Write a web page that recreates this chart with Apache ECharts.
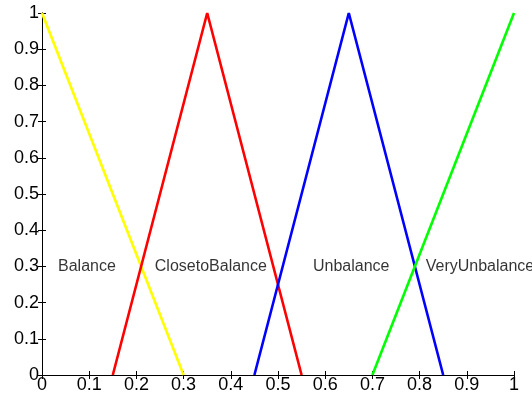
<!DOCTYPE html>
<html>
<head>
<meta charset="utf-8">
<script src="https://cdn.jsdelivr.net/npm/echarts@6/dist/echarts.min.js"></script>
<style>
  html, body { margin: 0; padding: 0; background: #fff; }
  #chart { width: 532px; height: 398px; }
</style>
</head>
<body>
<div id="chart"></div>
<script>
// membership function breakpoints (x, y)
const balanceX = [0, 0.3]
const balanceY = [1, 0]
const closeX = [0.15, 0.35, 0.55]
const closeY = [0, 1, 0]
const unbalX = [0.45, 0.65, 0.85]
const unbalY = [0, 1, 0]
const veryX = [0.7, 1]
const veryY = [0, 1]

const labelNames = ['Balance', 'ClosetoBalance', 'Unbalance', 'VeryUnbalance']
const labelX = [0.034, 0.239, 0.574, 0.813]
const labelY = [0.3, 0.3, 0.3, 0.3]

const zip = (xs, ys) => xs.map((x, i) => [x, ys[i]])

const font = 'Liberation Sans, Arial, sans-serif'

const chart = echarts.init(document.getElementById('chart'))

const axisCommon = {
  type: 'value',
  min: 0,
  max: 1,
  interval: 0.1,
  axisLine: { show: true, lineStyle: { color: '#000', width: 1 } },
  axisTick: { show: true, inside: true, length: 4, lineStyle: { color: '#000' } },
  splitLine: { show: false },
  axisLabel: {
    color: '#000',
    fontSize: 18,
    fontFamily: font,
    formatter: v => String(Math.round(v * 10) / 10)
  }
}

function mfLine(xs, ys, color) {
  return {
    type: 'line',
    data: zip(xs, ys),
    symbol: 'none',
    clip: false,
    lineStyle: { color: color, width: 2.6 },
    animation: false
  }
}

chart.setOption({
  backgroundColor: '#fff',
  animation: false,
  grid: { left: 42, right: 18, top: 13, bottom: 23, containLabel: false },
  xAxis: [
    Object.assign({}, axisCommon, { position: 'bottom', axisLabel: Object.assign({}, axisCommon.axisLabel, { margin: 1 }) }),
    Object.assign({}, axisCommon, { position: 'top', axisLabel: { show: false } })
  ],
  yAxis: [
    Object.assign({}, axisCommon, { position: 'left', axisLabel: Object.assign({}, axisCommon.axisLabel, { margin: 3 }) }),
    Object.assign({}, axisCommon, { position: 'right', axisLabel: { show: false } })
  ],
  series: [
    mfLine(balanceX, balanceY, '#ffff00'),
    mfLine(closeX, closeY, '#ff0000'),
    mfLine(unbalX, unbalY, '#0000ff'),
    mfLine(veryX, veryY, '#00ff00'),
    {
      type: 'scatter',
      symbolSize: 0,
      silent: true,
      clip: false,
      data: labelNames.map((n, i) => ({ value: [labelX[i], labelY[i]], name: n })),
      label: {
        show: true,
        position: 'right',
        distance: 0,
        formatter: p => p.name,
        color: '#000',
        fontSize: 16,
        fontFamily: font
      }
    }
  ]
})
</script>
</body>
</html>
